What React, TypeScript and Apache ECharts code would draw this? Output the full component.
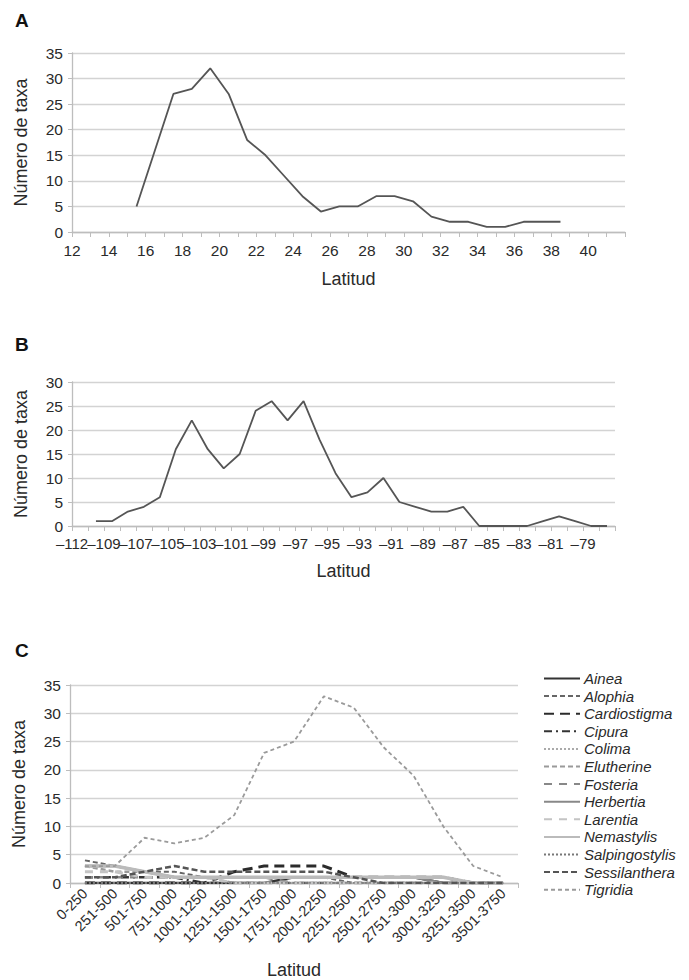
import React, { useEffect, useRef } from "react";
import * as echarts from "echarts";

// ---------- Panel A ----------
const aLat = [15.5, 16.5, 17.5, 18.5, 19.5, 20.5, 21.5, 22.5, 23.5, 24.5, 25.5, 26.5, 27.5, 28.5, 29.5, 30.5, 31.5, 32.5, 33.5, 34.5, 35.5, 36.5, 37.5, 38.5];
const aTaxa = [5, 16, 27, 28, 32, 27, 18, 15, 11, 7, 4, 5, 5, 7, 7, 6, 3, 2, 2, 1, 1, 2, 2, 2];
const aTickLabels = ["12", "14", "16", "18", "20", "22", "24", "26", "28", "30", "32", "34", "36", "38", "40"];

// ---------- Panel B ----------
const bLon = [-109.5, -108.5, -107.5, -106.5, -105.5, -104.5, -103.5, -102.5, -101.5, -100.5, -99.5, -98.5, -97.5, -96.5, -95.5, -94.5, -93.5, -92.5, -91.5, -90.5, -89.5, -88.5, -87.5, -86.5, -85.5, -84.5, -83.5, -82.5, -81.5, -80.5, -79.5, -78.5, -77.5];
const bTaxa = [1, 1, 3, 4, 6, 16, 22, 16, 12, 15, 24, 26, 22, 26, 18, 11, 6, 7, 10, 5, 4, 3, 3, 4, 0, 0, 0, 0, 1, 2, 1, 0, 0];
const bTickLabels = ["–112", "–109", "–107", "–105", "–103", "–101", "–99", "–97", "–95", "–93", "–91", "–89", "–87", "–85", "–83", "–81", "–79"];

// ---------- Panel C ----------
const cCategories = ["0-250", "251-500", "501-750", "751-1000", "1001-1250", "1251-1500", "1501-1750", "1751-2000", "2001-2250", "2251-2500", "2501-2750", "2751-3000", "3001-3250", "3251-3500", "3501-3750"];
const cAinea = [0, 0, 0, 0, 0, 0, 0, 1, 1, 1, 1, 1, 0, 0, 0];
const cAlophia = [4, 3, 2, 2, 1, 1, 1, 1, 1, 0, 0, 0, 0, 0, 0];
const cCardiostigma = [0, 0, 0, 0, 0, 2, 3, 3, 3, 1, 1, 1, 1, 0, 0];
const cCipura = [1, 1, 1, 1, 0, 0, 0, 0, 0, 0, 0, 0, 0, 0, 0];
const cColima = [0, 0, 0, 0, 0, 0, 0, 0, 0, 0, 0, 0, 0, 0, 0];
const cEleutherine = [3, 2, 2, 1, 1, 0, 0, 0, 0, 0, 0, 0, 0, 0, 0];
const cFosteria = [1, 1, 1, 1, 1, 1, 1, 0, 0, 0, 0, 0, 0, 0, 0];
const cHerbertia = [3, 3, 2, 1, 1, 1, 1, 1, 1, 1, 1, 1, 0, 0, 0];
const cLarentia = [2, 2, 1, 1, 1, 0, 0, 0, 0, 0, 0, 0, 0, 0, 0];
const cNemastylis = [3, 3, 2, 1, 1, 1, 1, 1, 1, 1, 1, 1, 1, 0, 0];
const cSalpingostylis = [0, 0, 0, 0, 0, 0, 0, 0, 0, 0, 0, 0, 0, 0, 0];
const cSessilanthera = [1, 1, 2, 3, 2, 2, 2, 2, 2, 1, 0, 0, 0, 0, 0];
const cTigridia = [3, 3, 8, 7, 8, 12, 23, 25, 33, 31, 24, 19, 10, 3, 1];

const FONT = '"Liberation Sans", Arial, Helvetica, sans-serif';
const TXT = "#2a2a2a";
const AXIS = "#bdbdbd";
const GRID = "#d3d3d3";

const cSeriesDefs = [
  { name: "Ainea", data: cAinea, color: "#333333", width: 2.5, type: "solid" as any },
  { name: "Alophia", data: cAlophia, color: "#666666", width: 2, type: [5, 3] },
  { name: "Cardiostigma", data: cCardiostigma, color: "#2b2b2b", width: 3, type: [10, 6] },
  { name: "Cipura", data: cCipura, color: "#333333", width: 2.5, type: [8, 4, 2, 4] },
  { name: "Colima", data: cColima, color: "#aaaaaa", width: 1.5, type: [2, 2] },
  { name: "Elutherine", data: cEleutherine, color: "#9a9a9a", width: 2.5, type: [5, 3] },
  { name: "Fosteria", data: cFosteria, color: "#888888", width: 2.5, type: [8, 7] },
  { name: "Herbertia", data: cHerbertia, color: "#888888", width: 2.5, type: "solid" },
  { name: "Larentia", data: cLarentia, color: "#c4c4c4", width: 3, type: [8, 7] },
  { name: "Nemastylis", data: cNemastylis, color: "#bbbbbb", width: 3.5, type: "solid" },
  { name: "Salpingostylis", data: cSalpingostylis, color: "#777777", width: 1.5, type: [2, 2] },
  { name: "Sessilanthera", data: cSessilanthera, color: "#555555", width: 2.5, type: [6, 3] },
  { name: "Tigridia", data: cTigridia, color: "#9a9a9a", width: 1.8, type: [4, 3] },
];

function yAxisDef(gridIndex: number, max: number) {
  return {
    type: "value",
    gridIndex,
    min: 0,
    max,
    interval: 5,
    name: "Número de taxa",
    nameLocation: "middle",
    nameGap: 42,
    nameRotate: 90,
    nameTextStyle: { fontSize: 18, color: TXT, fontFamily: FONT },
    axisLine: { show: true, lineStyle: { color: AXIS, width: 1.3 } },
    axisTick: { show: true, length: 4, lineStyle: { color: AXIS } },
    axisLabel: { fontSize: 15.5, color: TXT, fontFamily: FONT, margin: 9 },
    splitLine: { show: true, lineStyle: { color: GRID, width: 1.4 } },
  };
}

export default function App() {
  const ref = useRef<HTMLDivElement>(null);
  useEffect(() => {
    if (!ref.current) return;
    const chart = echarts.init(ref.current, null, { renderer: "svg" });
    const option: any = {
      animation: false,
      backgroundColor: "#ffffff",
      textStyle: { fontFamily: FONT },
      graphic: [
        { type: "text", left: 15, top: 11, style: { text: "A", fontSize: 19, fontWeight: "bold", fill: "#111", fontFamily: FONT } },
        { type: "text", left: 15, top: 335, style: { text: "B", fontSize: 19, fontWeight: "bold", fill: "#111", fontFamily: FONT } },
        { type: "text", left: 15, top: 641, style: { text: "C", fontSize: 19, fontWeight: "bold", fill: "#111", fontFamily: FONT } },
      ],
      grid: [
        { left: 72, width: 553, top: 53, height: 179 },
        { left: 72, width: 543, top: 382, height: 144 },
        { left: 70, width: 448, top: 685, height: 201 },
      ],
      legend: {
        data: cSeriesDefs.map((d) => d.name),
        orient: "vertical",
        left: 543,
        top: 671,
        padding: 0,
        itemWidth: 36,
        itemHeight: 14,
        itemGap: 2.6,
        selectedMode: false,
        itemStyle: { opacity: 0, borderWidth: 0 },
        textStyle: { fontSize: 15, fontStyle: "italic", color: TXT, fontFamily: FONT, padding: [0, 0, 0, -1] },
      },
      xAxis: [
        {
          type: "value",
          gridIndex: 0,
          min: 12,
          max: 42,
          interval: 1,
          name: "Latitud",
          nameLocation: "middle",
          nameGap: 38,
          nameTextStyle: { fontSize: 18, color: TXT, fontFamily: FONT },
          axisLine: { show: true, lineStyle: { color: AXIS, width: 1.3 } },
          axisTick: { show: true, length: 5, lineStyle: { color: AXIS } },
          splitLine: { show: false },
          axisLabel: {
            fontSize: 15.5,
            color: TXT,
            fontFamily: FONT,
            margin: 10,
            formatter: (v: number) => (aTickLabels.includes(String(v)) ? String(v) : ""),
          },
        },
        {
          type: "value",
          gridIndex: 1,
          min: -111,
          max: -77,
          interval: 1,
          name: "Latitud",
          nameLocation: "middle",
          nameGap: 36,
          nameTextStyle: { fontSize: 18, color: TXT, fontFamily: FONT },
          axisLine: { show: true, onZero: false, lineStyle: { color: AXIS, width: 1.3 } },
          axisTick: { show: true, length: 5, lineStyle: { color: AXIS } },
          splitLine: { show: false },
          axisLabel: {
            fontSize: 15,
            color: TXT,
            fontFamily: FONT,
            margin: 10,
            formatter: (v: number) => {
              const k = (Math.round(v) + 111) / 2;
              return Number.isInteger(k) && k >= 0 && k < bTickLabels.length ? bTickLabels[k] : "";
            },
          },
        },
        {
          type: "category",
          gridIndex: 2,
          data: cCategories,
          boundaryGap: true,
          name: "Latitud",
          nameLocation: "middle",
          nameGap: 78,
          nameTextStyle: { fontSize: 18, color: TXT, fontFamily: FONT },
          axisLine: { show: true, lineStyle: { color: AXIS, width: 1.3 } },
          axisTick: { show: true, length: 5, lineStyle: { color: AXIS } },
          splitLine: { show: false },
          axisLabel: { interval: 0, rotate: 45, fontSize: 14.5, color: TXT, fontFamily: FONT, margin: 8 },
        },
      ],
      yAxis: [yAxisDef(0, 35), yAxisDef(1, 30), yAxisDef(2, 35)],
      series: [
        {
          type: "line",
          xAxisIndex: 0,
          yAxisIndex: 0,
          data: aLat.map((x, i) => [x, aTaxa[i]]),
          symbol: "none",
          silent: true,
          lineStyle: { color: "#555555", width: 1.8 },
        },
        {
          type: "line",
          xAxisIndex: 1,
          yAxisIndex: 1,
          data: bLon.map((x, i) => [x, bTaxa[i]]),
          symbol: "none",
          silent: true,
          lineStyle: { color: "#555555", width: 1.8 },
        },
        ...cSeriesDefs.map((d) => ({
          type: "line",
          name: d.name,
          xAxisIndex: 2,
          yAxisIndex: 2,
          data: d.data,
          symbol: "none",
          silent: true,
          color: d.color,
          lineStyle: { color: d.color, width: d.width, type: d.type },
        })),
      ],
    };
    chart.setOption(option);
    return () => chart.dispose();
  }, []);
  return <div ref={ref} style={{ position: "absolute", left: 0, top: 0, width: 689, height: 980 }} />;
}
